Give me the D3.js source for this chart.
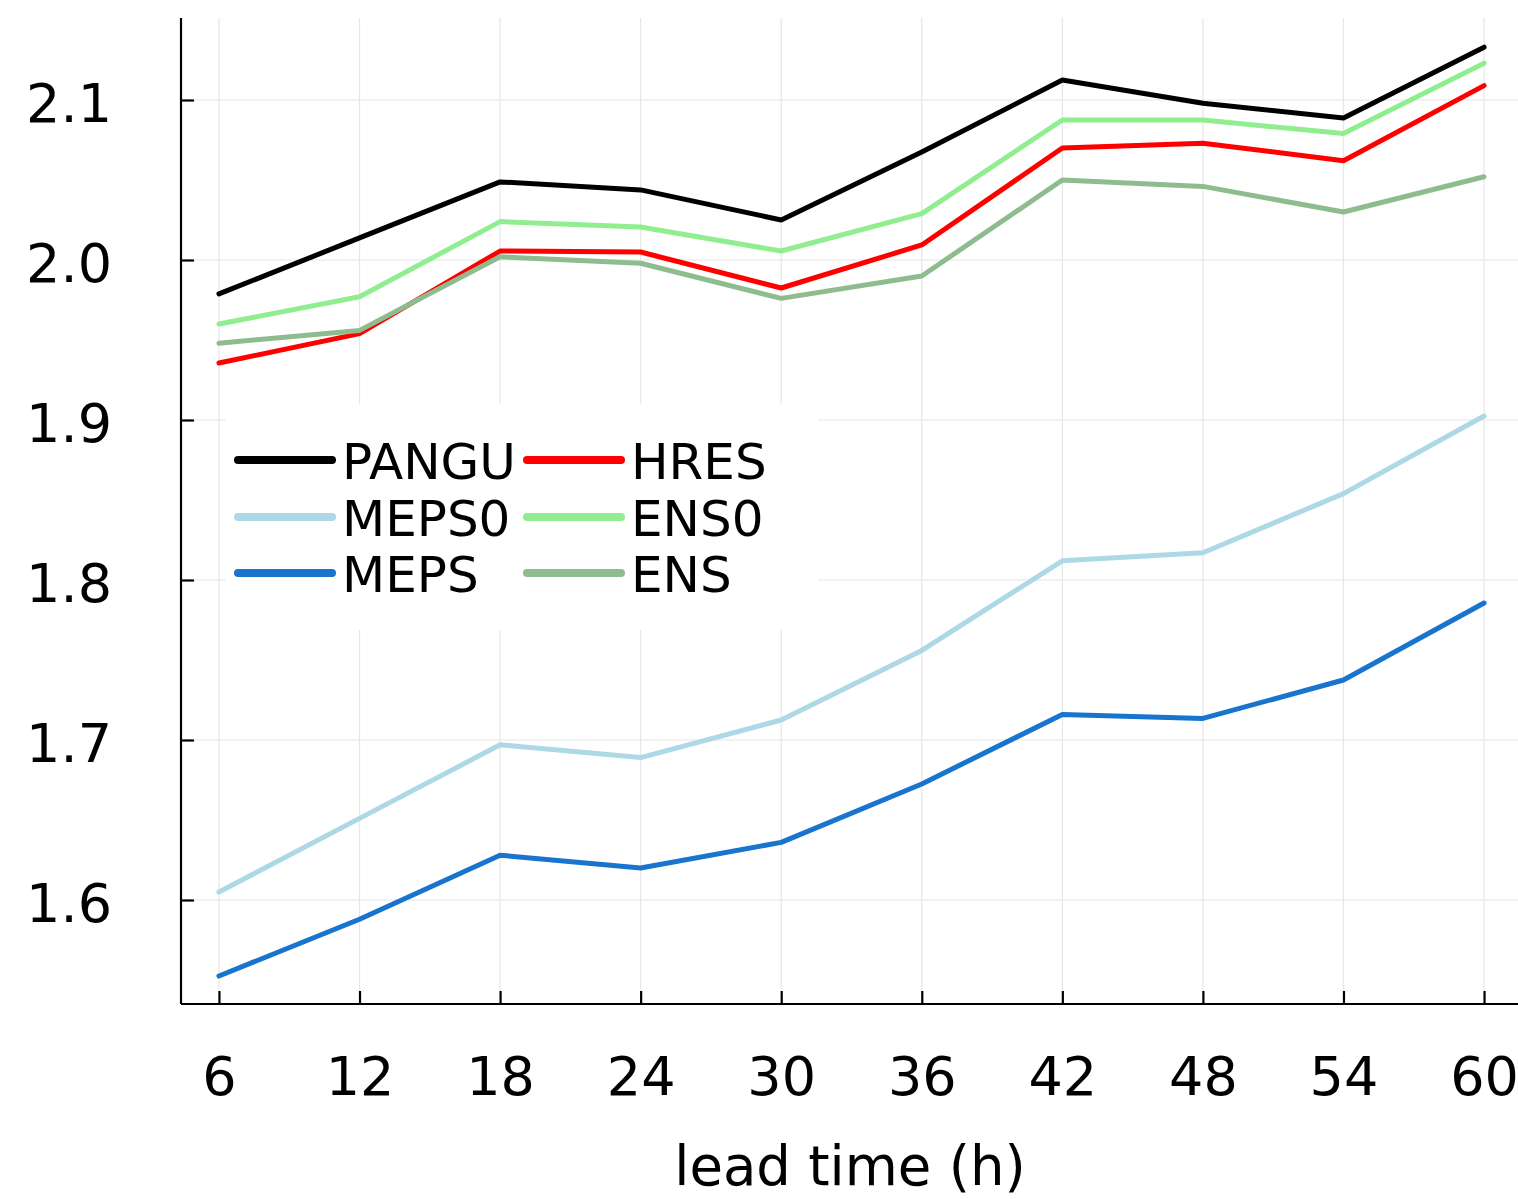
<!DOCTYPE html>
<html>
<head>
<meta charset="utf-8">
<script src="https://cdn.jsdelivr.net/npm/d3@7"></script>
<style>
  html, body { margin: 0; padding: 0; background: #fff; }
  svg { display: block; font-family: "DejaVu Sans", sans-serif; }
</style>
</head>
<body>
<svg id="chart" width="1518" height="1199"></svg>
<script>
// ---- data ----
const leadTimes = [6, 12, 18, 24, 30, 36, 42, 48, 54, 60];
const seriesNames = ["PANGU", "HRES", "MEPS0", "ENS0", "MEPS", "ENS"];
const seriesColors = ["#000000", "#ff0000", "#add8e6", "#90ee90", "#1874cd", "#8fbc8f"];
const PANGU = [1.9788, 2.0138, 2.0488, 2.0438, 2.0250, 2.0675, 2.1125, 2.0980, 2.0888, 2.1330];
const HRES  = [1.9356, 1.9540, 2.0056, 2.0050, 1.9825, 2.0094, 2.0700, 2.0730, 2.0620, 2.1090];
const MEPS0 = [1.6050, 1.6510, 1.6970, 1.6890, 1.7125, 1.7560, 1.8120, 1.8170, 1.8540, 1.9025];
const ENS0  = [1.9600, 1.9770, 2.0240, 2.0206, 2.0056, 2.0290, 2.0875, 2.0875, 2.0790, 2.1230];
const MEPS  = [1.5525, 1.5880, 1.6280, 1.6200, 1.6360, 1.6725, 1.7160, 1.7135, 1.7375, 1.7856];
const ENS   = [1.9480, 1.9560, 2.0020, 1.9980, 1.9760, 1.9900, 2.0500, 2.0460, 2.0300, 2.0520];
const seriesValues = [PANGU, HRES, MEPS0, ENS0, MEPS, ENS];
const yTicks = [1.6, 1.7, 1.8, 1.9, 2.0, 2.1];
const xLabel = "lead time (h)";

// ---- layout ----
const svg = d3.select("#chart");
const pLeft = 181, pRight = 1522, pTop = 18, pBottom = 1004;
const x = d3.scaleLinear().domain([4.38, 61.62]).range([pLeft, pRight]);
const y = d3.scaleLinear().domain([1.535, 2.15125]).range([pBottom, pTop]);

// grid
const grid = svg.append("g");
grid.selectAll("line.vx").data(leadTimes).join("line")
  .attr("x1", d => x(d)).attr("x2", d => x(d))
  .attr("y1", pTop).attr("y2", pBottom)
  .attr("stroke", "#e6e6e6").attr("stroke-width", 1.2);
grid.selectAll("line.hy").data(yTicks).join("line")
  .attr("x1", pLeft).attr("x2", pRight)
  .attr("y1", d => y(d)).attr("y2", d => y(d))
  .attr("stroke", "#e6e6e6").attr("stroke-width", 1.2);

// axes (inward ticks)
const xAxis = d3.axisBottom(x).tickValues(leadTimes).tickSize(-13).tickPadding(0).tickFormat(d3.format("d"));
const yAxis = d3.axisLeft(y).tickValues(yTicks).tickSize(-13).tickPadding(0).tickFormat(d3.format(".1f"));

const gx = svg.append("g").attr("transform", `translate(0,${pBottom})`).call(xAxis);
gx.select(".domain").attr("d", `M${pLeft},0H${pRight}`).attr("stroke", "#000").attr("stroke-width", 2.2);
gx.selectAll(".tick line").attr("stroke", "#000").attr("stroke-width", 2.2);
gx.selectAll(".tick text").attr("font-size", 54).attr("font-family", "DejaVu Sans")
  .attr("fill", "#000").attr("y", 91).attr("dy", 0);

const gy = svg.append("g").attr("transform", `translate(${pLeft},0)`).call(yAxis);
gy.select(".domain").attr("d", `M0,${pTop}V${pBottom}`).attr("stroke", "#000").attr("stroke-width", 2.2);
gy.selectAll(".tick line").attr("stroke", "#000").attr("stroke-width", 2.2);
gy.selectAll(".tick text").attr("font-size", 54).attr("font-family", "DejaVu Sans")
  .attr("fill", "#000").attr("x", -69).attr("dy", 0).attr("y", 21).attr("text-anchor", "end");

// lines
const line = d3.line().x((d, i) => x(leadTimes[i])).y(d => y(d));
const series = seriesNames.map((n, i) => ({ name: n, color: seriesColors[i], values: seriesValues[i] }));
svg.append("g").selectAll("path").data(series).join("path")
  .attr("d", d => line(d.values))
  .attr("fill", "none").attr("stroke", d => d.color)
  .attr("stroke-width", 5).attr("stroke-linejoin", "round").attr("stroke-linecap", "round");

// legend
const lg = svg.append("g");
lg.append("rect").attr("x", 226).attr("y", 404).attr("width", 592).attr("height", 226).attr("fill", "#fff");
const colX = [238, 527], rowY = [460, 517, 573];
const items = lg.selectAll("g.item").data(series).join("g")
  .attr("transform", (d, i) => `translate(${colX[i % 2]},${rowY[Math.floor(i / 2)]})`);
items.append("line").attr("x1", 0).attr("x2", 94).attr("y1", 0).attr("y2", 0)
  .attr("stroke", d => d.color).attr("stroke-width", 8).attr("stroke-linecap", "round");
items.append("text").attr("x", 104).attr("y", 19).attr("font-size", 50).attr("fill", "#000")
  .text(d => d.name);

// x label
svg.append("text").attr("x", 850).attr("y", 1185).attr("text-anchor", "middle")
  .attr("font-size", 54.5).attr("fill", "#000").text(xLabel);
</script>
</body>
</html>
